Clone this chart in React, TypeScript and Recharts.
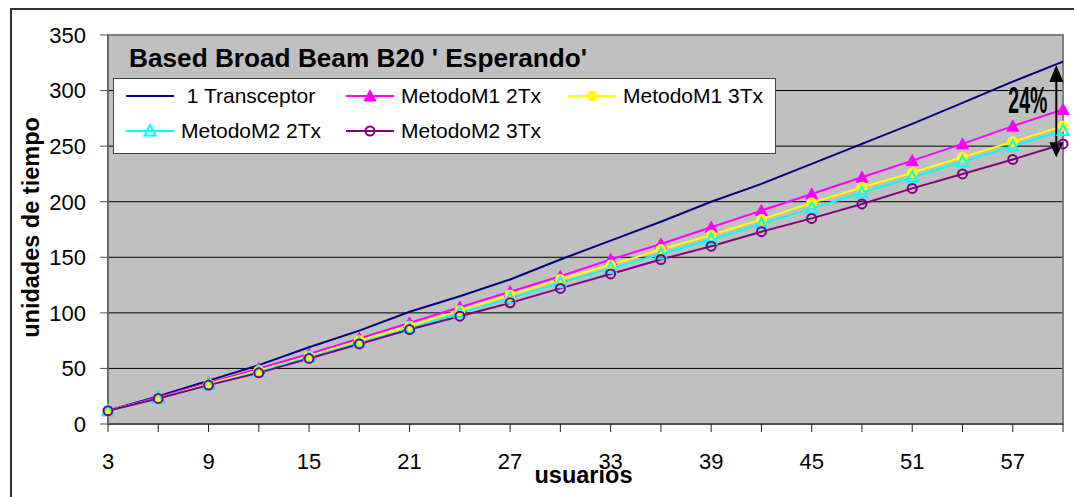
import React from "react";
import {
  LineChart,
  Line,
  XAxis,
  YAxis,
  CartesianGrid,
  ReferenceArea,
  ReferenceLine,
  Legend,
} from "recharts";

document.body.style.margin = "0";

const FONT = "'Liberation Sans', Arial, sans-serif";

// usuarios (eje x)
const usuarios = [3, 6, 9, 12, 15, 18, 21, 24, 27, 30, 33, 36, 39, 42, 45, 48, 51, 54, 57, 60];

// unidades de tiempo por serie
const transceptor = [12, 25, 39, 53, 69, 84, 101, 115, 130, 148, 165, 182, 200, 216, 234, 252, 270, 289, 308, 326];
const m1_2tx = [12, 24, 37, 50, 63, 77, 91, 105, 119, 133, 148, 162, 177, 192, 207, 222, 237, 252, 268, 283];
const m1_3tx = [12, 23, 36, 48, 61, 75, 88, 102, 116, 130, 143, 157, 170, 184, 199, 213, 226, 240, 254, 268];
const m2_2tx = [12, 23, 35, 47, 60, 73, 86, 100, 113, 127, 140, 153, 166, 180, 194, 208, 222, 236, 250, 264];
const m2_3tx = [12, 23, 35, 46, 59, 72, 85, 97, 109, 122, 135, 148, 160, 173, 185, 198, 212, 225, 238, 252];

const yTicks = [0, 50, 100, 150, 200, 250, 300, 350];

const data = usuarios.map((u, i) => ({
  u,
  s0: transceptor[i],
  s1: m1_2tx[i],
  s2: m1_3tx[i],
  s3: m2_2tx[i],
  s4: m2_3tx[i],
}));

type Marker = "none" | "triFill" | "dotFill" | "triOpen" | "dotOpen";

const series: { key: string; name: string; color: string; marker: Marker }[] = [
  { key: "s0", name: " 1 Transceptor", color: "#000080", marker: "none" },
  { key: "s1", name: "MetodoM1 2Tx", color: "#FF00FF", marker: "triFill" },
  { key: "s2", name: "MetodoM1 3Tx", color: "#FFFF00", marker: "dotFill" },
  { key: "s3", name: "MetodoM2 2Tx", color: "#00FFFF", marker: "triOpen" },
  { key: "s4", name: "MetodoM2 3Tx", color: "#800080", marker: "dotOpen" },
];

function markerShape(kind: Marker, color: string, cx: number, cy: number, key?: string) {
  switch (kind) {
    case "triFill":
      return <path key={key} d={`M${cx},${cy - 6}L${cx + 6},${cy + 5}L${cx - 6},${cy + 5}Z`} fill={color} stroke={color} />;
    case "dotFill":
      return <circle key={key} cx={cx} cy={cy} r={5} fill={color} stroke={color} />;
    case "triOpen":
      return <path key={key} d={`M${cx},${cy - 6}L${cx + 5.5},${cy + 4.5}L${cx - 5.5},${cy + 4.5}Z`} fill="none" stroke={color} strokeWidth={2} />;
    case "dotOpen":
      return <circle key={key} cx={cx} cy={cy} r={4.5} fill="none" stroke={color} strokeWidth={2} />;
    default:
      return null;
  }
}

function LegendBox() {
  const cols = [13, 233, 455];
  const rows = [17, 52];
  return (
    <div
      style={{
        position: "relative",
        width: 663,
        height: 76,
        background: "#fff",
        border: "1px solid #444",
        boxSizing: "border-box",
        fontFamily: FONT,
        fontSize: 21,
        color: "#000",
      }}
    >
      {series.map((s, i) => (
        <div
          key={s.key}
          style={{
            position: "absolute",
            left: cols[i % 3] - 1,
            top: rows[Math.floor(i / 3)] - 11,
            height: 22,
            display: "flex",
            alignItems: "center",
            whiteSpace: "pre",
          }}
        >
          <svg width={48} height={22} style={{ marginRight: 7 }}>
            <line x1={0} x2={48} y1={11} y2={11} stroke={s.color} strokeWidth={2} />
            {markerShape(s.marker, s.color, 24, 11)}
          </svg>
          <span>{s.name}</span>
        </div>
      ))}
    </div>
  );
}

const YTitle = ({ viewBox }: any) => {
  const cx = viewBox.x + 39;
  const cy = viewBox.y + viewBox.height / 2 - 2;
  return (
    <text
      x={cx}
      y={cy}
      transform={`rotate(-90 ${cx} ${cy})`}
      textAnchor="middle"
      fontFamily={FONT}
      fontWeight="bold"
      fontSize={23.5}
      fill="#000"
    >
      unidades de tiempo
    </text>
  );
};

const XTitle = ({ viewBox }: any) => (
  <text
    x={viewBox.x + viewBox.width / 2 - 2}
    y={viewBox.y + 59}
    textAnchor="middle"
    fontFamily={FONT}
    fontWeight="bold"
    fontSize={23.5}
    fill="#000"
  >
    usuarios
  </text>
);

const Arrow = (props: any) => {
  const { x1, y1, y2 } = props;
  return (
    <g>
      <line x1={x1} x2={x1} y1={y1 + 10} y2={y2 - 10} stroke="#000" strokeWidth={2} />
      <path d={`M${x1},${y1}L${x1 + 7},${y1 + 17}L${x1 - 7},${y1 + 17}Z`} fill="#000" />
      <path d={`M${x1},${y2}L${x1 + 7},${y2 - 15}L${x1 - 7},${y2 - 15}Z`} fill="#000" />
      <text
        x={x1 - 48}
        y={y1 + 48}
        fontFamily="'Liberation Sans Narrow', 'Liberation Sans', Arial, sans-serif"
        fontWeight="bold"
        fontSize={36}
        textLength={39}
        lengthAdjust="spacingAndGlyphs"
        fill="#000"
      >
        24%
      </text>
    </g>
  );
};

export default function App() {
  return (
    <div style={{ position: "relative", width: 1074, height: 497, overflow: "hidden", background: "#fff" }}>
      <div
        style={{
          position: "absolute",
          left: 10,
          top: 8,
          width: 1100,
          height: 520,
          border: "2px solid #333",
          boxSizing: "border-box",
        }}
      />
      <LineChart
        width={1074}
        height={497}
        data={data}
        margin={{ top: 35, right: 11, bottom: 0, left: 0 }}
        style={{ position: "absolute", left: 0, top: 0 }}
      >
        <CartesianGrid vertical={false} stroke="#000" fill="#C0C0C0" fillOpacity={1} />
        <ReferenceArea x1={3} x2={60} y1={0} y2={350} fill="none" stroke="#808080" strokeWidth={2} />
        <XAxis
          dataKey="u"
          type="number"
          domain={[3, 60]}
          ticks={usuarios}
          tickFormatter={(v: number, i: number) => (i % 2 === 0 ? String(v) : "")}
          height={73}
          tickSize={8}
          tickMargin={21}
          stroke="#222"
          tick={{ fill: "#000", fontSize: 22, fontFamily: FONT }}
          label={{ content: XTitle }}
        />
        <YAxis
          domain={[0, 350]}
          ticks={yTicks}
          width={108}
          tickSize={8}
          tickMargin={14}
          stroke="#555"
          tick={{ fill: "#000", fontSize: 22, fontFamily: FONT }}
          label={{ content: YTitle }}
        />
        {series.map((s) => (
          <Line
            key={s.key}
            dataKey={s.key}
            name={s.name}
            stroke={s.color}
            strokeWidth={2}
            isAnimationActive={false}
            dot={
              s.marker === "none"
                ? false
                : (p: any) => markerShape(s.marker, s.color, p.cx, p.cy, `${s.key}-${p.index}`)
            }
            activeDot={false}
          />
        ))}
        <ReferenceLine
          segment={[
            { x: 59.6, y: 323 },
            { x: 59.6, y: 240 },
          ]}
          shape={Arrow}
        />
        <text
          x={129}
          y={67}
          fontFamily={FONT}
          fontWeight="bold"
          fontSize={25}
          textLength={458}
          lengthAdjust="spacingAndGlyphs"
          fill="#000"
        >
          Based Broad Beam B20 ' Esperando'
        </text>
        <Legend
          layout="vertical"
          align="center"
          verticalAlign="middle"
          wrapperStyle={{ left: 113, top: 78, width: 663, height: 76 }}
          content={() => <LegendBox />}
        />
      </LineChart>
    </div>
  );
}
